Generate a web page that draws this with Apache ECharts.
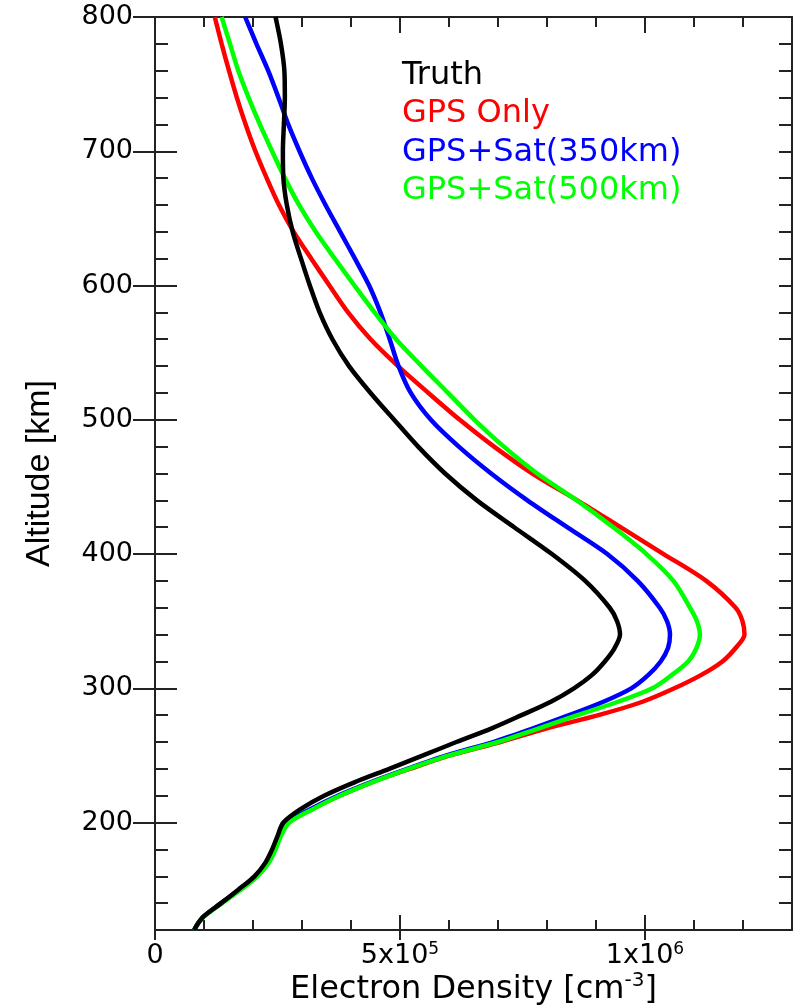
<!DOCTYPE html>
<html>
<head>
<meta charset="utf-8">
<title>Electron Density Profile</title>
<script src="https://cdn.jsdelivr.net/npm/echarts@6.0.0/dist/echarts.min.js"></script>
<style>
  html, body { margin: 0; padding: 0; background: #fff; }
  #chart { width: 796px; height: 1005px; }
</style>
</head>
<body>
<div id="chart"></div>
<script>
// altitudes (km) shared by every profile
const altitudes = [
  120, 125, 130, 140, 150, 160, 170, 180, 190, 200, 210, 220, 230, 240, 250, 260,
  270, 280, 290, 300, 310, 320, 330, 340, 350, 360, 380, 400, 420, 440, 460, 480,
  500, 520, 540, 560, 580, 600, 620, 640, 660, 680, 700, 720, 740, 760, 780, 800
];

// electron density, in units of 1e5 cm^-3
const truth = [
  0.80, 0.88, 0.99, 1.35, 1.70, 2.03, 2.25, 2.39, 2.50, 2.62, 2.97, 3.45, 4.07, 4.78, 5.47, 6.15,
  6.86, 7.48, 8.08, 8.55, 8.92, 9.18, 9.38, 9.49, 9.43, 9.28, 8.78, 8.10, 7.33, 6.57, 5.92, 5.37,
  4.88, 4.40, 3.96, 3.62, 3.36, 3.16, 2.98, 2.81, 2.69, 2.62, 2.61, 2.63, 2.65, 2.64, 2.57, 2.46
];
const gpsOnly = [
  0.80, 0.88, 0.99, 1.35, 1.72, 2.05, 2.27, 2.41, 2.52, 2.72, 3.20, 3.77, 4.42, 5.20, 6.02, 7.05,
  7.98, 9.05, 9.95, 10.60, 11.15, 11.58, 11.85, 12.03, 11.99, 11.85, 11.25, 10.38, 9.50, 8.62, 7.70, 6.92,
  6.22, 5.58, 4.96, 4.40, 3.94, 3.56, 3.19, 2.83, 2.53, 2.28, 2.05, 1.85, 1.67, 1.51, 1.36, 1.22
];
const gpsSat350 = [
  0.80, 0.88, 0.99, 1.35, 1.72, 2.05, 2.27, 2.41, 2.52, 2.70, 3.17, 3.73, 4.40, 5.15, 5.95, 6.90,
  7.70, 8.45, 9.15, 9.72, 10.07, 10.32, 10.47, 10.51, 10.45, 10.30, 9.85, 9.23, 8.41, 7.60, 6.86, 6.20,
  5.63, 5.22, 4.97, 4.79, 4.60, 4.37, 4.08, 3.78, 3.48, 3.20, 2.95, 2.72, 2.52, 2.31, 2.07, 1.84
];
const gpsSat500 = [
  0.80, 0.88, 1.00, 1.37, 1.75, 2.09, 2.32, 2.46, 2.57, 2.74, 3.22, 3.77, 4.43, 5.18, 6.00, 7.00,
  7.82, 8.62, 9.45, 10.15, 10.55, 10.88, 11.05, 11.12, 11.06, 10.92, 10.58, 10.03, 9.35, 8.61, 7.80, 7.12,
  6.52, 5.98, 5.44, 4.92, 4.48, 4.07, 3.67, 3.28, 2.94, 2.65, 2.39, 2.14, 1.91, 1.70, 1.53, 1.36
];
const densityUnit = 1e5;

// tick labels
const xTickValues = [0, 500000, 1000000];
const yTickValues = [200, 300, 400, 500, 600, 700, 800];

const seriesNames = ['Truth', 'GPS Only', 'GPS+Sat(350km)', 'GPS+Sat(500km)'];
const seriesColors = ['#000000', '#ff0000', '#0000ff', '#00ff00'];
const seriesValues = [truth, gpsOnly, gpsSat350, gpsSat500];

const chart = echarts.init(document.getElementById('chart'));

const axisColor = '#222';
const lineStyle = { color: axisColor, width: 2 };
const xRange = { min: 0, max: 1300000 };
const yRange = { min: 120, max: 800 };

function toPairs(values) {
  return values.map((v, i) => [v * densityUnit, altitudes[i]]);
}

function sciLabel(v) {
  if (v === 0) return '{b|0}';
  const exp = Math.floor(Math.log10(v));
  const mant = Math.round(v / Math.pow(10, exp));
  return '{b|' + mant + 'x10}{s|' + exp + '}';
}

// an axis that only draws ticks (used to get major/minor and in/out ticks)
function tickAxis(extra) {
  return Object.assign({
    type: 'value',
    gridIndex: 0,
    axisLine: { show: false },
    axisLabel: { show: false },
    splitLine: { show: false }
  }, extra);
}

const labelFont = 'DejaVu Sans';

const option = {
  backgroundColor: '#fff',
  animation: false,
  grid: {
    left: 155,
    right: 4,
    top: 17,
    bottom: 75,
    containLabel: false,
    outerBoundsMode: 'none'
  },
  legend: {
    orient: 'vertical',
    left: 397,
    top: 56,
    padding: 0,
    itemGap: 0,
    itemWidth: 0,
    itemHeight: 1,
    icon: 'none',
    selectedMode: false,
    textStyle: { fontFamily: labelFont, fontSize: 32, lineHeight: 38.5 },
    data: seriesNames.map((n, i) => ({ name: n, textStyle: { color: seriesColors[i] } }))
  },
  xAxis: [
    Object.assign({
      type: 'value',
      gridIndex: 0,
      position: 'bottom',
      axisLine: { show: true, onZero: false, lineStyle: lineStyle },
      axisTick: { show: true, inside: true, length: 15, customValues: xTickValues, lineStyle: lineStyle },
      axisLabel: {
        customValues: xTickValues,
        margin: 11,
        formatter: sciLabel,
        rich: {
          b: { fontFamily: labelFont, fontSize: 27, color: '#000', lineHeight: 30 },
          s: { fontFamily: labelFont, fontSize: 17, color: '#000', lineHeight: 19, verticalAlign: 'top' }
        }
      },
      splitLine: { show: false },
      name: '{t|Electron Density [cm}{s|-3}{t|]}',
      nameLocation: 'middle',
      nameGap: 41,
      nameMoveOverlap: false,
      nameTextStyle: {
        rich: {
          t: { fontFamily: labelFont, fontSize: 32, color: '#000', lineHeight: 37 },
          s: { fontFamily: labelFont, fontSize: 20, color: '#000', lineHeight: 21, verticalAlign: 'top' }
        }
      }
    }, xRange),
    tickAxis(Object.assign({ position: 'bottom', interval: 100000,
      axisTick: { show: true, inside: true, length: 10, lineStyle: lineStyle } }, xRange)),
    tickAxis(Object.assign({ position: 'bottom',
      axisTick: { show: true, inside: false, length: 10, customValues: xTickValues, lineStyle: lineStyle } }, xRange)),
    tickAxis(Object.assign({ position: 'top', interval: 100000,
      axisLine: { show: true, onZero: false, lineStyle: lineStyle },
      axisTick: { show: true, inside: true, length: 10, lineStyle: lineStyle } }, xRange)),
    tickAxis(Object.assign({ position: 'top',
      axisTick: { show: true, inside: true, length: 16, customValues: xTickValues, lineStyle: lineStyle } }, xRange))
  ],
  yAxis: [
    Object.assign({
      type: 'value',
      gridIndex: 0,
      position: 'left',
      axisLine: { show: true, onZero: false, lineStyle: lineStyle },
      axisTick: { show: true, inside: false, length: 15, customValues: yTickValues, lineStyle: lineStyle },
      axisLabel: {
        customValues: yTickValues,
        margin: 22,
        color: '#000',
        fontFamily: labelFont,
        fontSize: 27
      },
      splitLine: { show: false },
      name: 'Altitude [km]',
      nameLocation: 'middle',
      nameRotate: 90,
      nameGap: 98,
      nameTextStyle: { fontFamily: 'Liberation Sans', fontSize: 34, color: '#000' }
    }, yRange),
    tickAxis(Object.assign({ position: 'left',
      axisTick: { show: true, inside: true, length: 22, customValues: yTickValues, lineStyle: lineStyle } }, yRange)),
    tickAxis(Object.assign({ position: 'left', interval: 20,
      axisTick: { show: true, inside: true, length: 13, lineStyle: lineStyle } }, yRange)),
    tickAxis(Object.assign({ position: 'right', interval: 20,
      axisLine: { show: true, onZero: false, lineStyle: lineStyle },
      axisTick: { show: true, inside: true, length: 13, lineStyle: lineStyle } }, yRange)),
    tickAxis(Object.assign({ position: 'right',
      axisTick: { show: true, inside: true, length: 22, customValues: yTickValues, lineStyle: lineStyle } }, yRange))
  ],
  // draw order: red, blue, green, then black on top
  series: [1, 2, 3, 0].map((k) => ({
    name: seriesNames[k],
    type: 'line',
    xAxisIndex: 0,
    yAxisIndex: 0,
    data: toPairs(seriesValues[k]),
    showSymbol: false,
    symbol: 'none',
    smooth: 0.3,
    color: seriesColors[k],
    lineStyle: { color: seriesColors[k], width: 4.5 },
    z: k === 0 ? 10 : 3
  }))
};

chart.setOption(option);
</script>
</body>
</html>
